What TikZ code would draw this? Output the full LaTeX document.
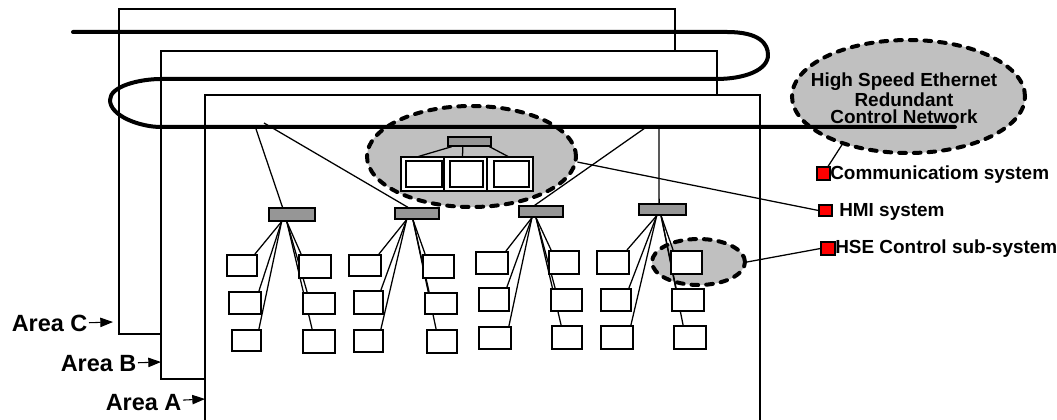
\documentclass[tikz,border=0pt]{standalone}
\usepackage{fontspec}
\setmainfont{Liberation Sans}
\usetikzlibrary{shapes.geometric,fit,arrows.meta,calc}
\definecolor{ellgray}{RGB}{192,192,192}
\definecolor{bargray}{RGB}{150,150,150}
\pgfdeclarelayer{back}\pgfdeclarelayer{mid}\pgfdeclarelayer{front}
\pgfsetlayers{back,mid,main,front}
\tikzset{
  areabox/.style={draw, fill=white, line width=0.85pt, inner sep=0pt},
  leafbox/.style={draw, fill=white, line width=1.35pt, inner sep=0pt},
  barbox/.style={draw, fill=bargray, line width=1pt, inner sep=0pt},
  cellbox/.style={draw, fill=white, line width=0.8pt, inner sep=0pt},
  innerbox/.style={draw, fill=white, line width=1.5pt, inner sep=0pt},
  dashell/.style={ellipse, draw, fill=ellgray, line width=3pt, dash pattern=on 5pt off 6pt, line cap=round, inner sep=0pt},
  redsq/.style={draw, fill=red, line width=0.8pt, inner sep=0pt},
  wire/.style={line width=0.95pt},
  net/.style={line width=3pt, line cap=round, line join=round},
  arealbl/.style={font=\fontsize{17.6pt}{20pt}\selectfont\bfseries, inner sep=1pt, anchor=base east},
  sidelbl/.style={font=\fontsize{14.2pt}{17pt}\selectfont\bfseries, inner sep=0pt, anchor=base west},
  areaarrow/.style={line width=0.8pt, -{Triangle[length=9.5pt,width=7pt]}},
}
\newcommand\leafnode[5]{\node[leafbox, fit={(#2,#3) (#4,#5)}] (#1) {};}
\begin{document}
\begin{tikzpicture}[x=0.75pt, y=-0.75pt]
\useasboundingbox (0,0) rectangle (1057,420);
% area frames
\begin{pgfonlayer}{back}
\node[areabox, fit={(119,9) (675,334)}] (areaC) {};
\node[areabox, fit={(161,51) (717,379)}] (areaB) {};
\node[areabox, fit={(205,95) (760,430)}] (areaA) {};
\end{pgfonlayer}
% HMI group
\node[dashell, minimum width=156.75pt, minimum height=75.75pt] (hmiell) at (471.5,156.5) {};
\node[barbox, fit={(448,137) (491,146)}] (hmibar) {};
\node[cellbox, fit={(401,157) (444,191)}] (cell1) {};
\node[cellbox, fit={(444,157) (487,191)}] (cell2) {};
\node[cellbox, fit={(487,157) (533,191)}] (cell3) {};
\node[innerbox, fit={(406,161) (442,187)}] (ws1) {};
\node[innerbox, fit={(450,161) (483,187)}] (ws2) {};
\node[innerbox, fit={(494,161) (529,187)}] (ws3) {};
\draw[wire] ($(hmibar.south west)!0.1!(hmibar.south east)$) -- ($(cell1.north)+(-4,0)$);
\draw[wire] ($(hmibar.south west)!0.35!(hmibar.south east)$) -- ($(cell2.north)+(-3,0)$);
\draw[wire] ($(hmibar.south west)!0.95!(hmibar.south east)$) -- ($(cell3.north)+(-2,0)$);
% switches
\node[barbox, fit={(269,208) (315,221)}] (b1) {};
\node[barbox, fit={(395,208) (439,219)}] (b2) {};
\node[barbox, fit={(519,206) (563,217)}] (b3) {};
\node[barbox, fit={(639,204) (686,215)}] (b4) {};
% leaves
\leafnode{c1r1}{227}{255}{257}{276}
\leafnode{c1r2}{229}{292}{261}{314}
\leafnode{c1r3}{232}{330}{261}{351}
\leafnode{c2r1}{299}{255}{331}{278}
\leafnode{c2r2}{303}{293}{335}{314}
\leafnode{c2r3}{303}{330}{335}{353}
\leafnode{c3r1}{349}{255}{381}{276}
\leafnode{c3r2}{354}{291}{383}{314}
\leafnode{c3r3}{354}{330}{383}{352}
\leafnode{c4r1}{423}{255}{454}{278}
\leafnode{c4r2}{425}{293}{457}{314}
\leafnode{c4r3}{427}{330}{457}{353}
\leafnode{c5r1}{476}{252}{508}{274}
\leafnode{c5r2}{479}{288}{509}{311}
\leafnode{c5r3}{479}{327}{511}{349}
\leafnode{c6r1}{549}{251}{579}{274}
\leafnode{c6r2}{551}{289}{582}{311}
\leafnode{c6r3}{552}{326}{582}{349}
\leafnode{c7r1}{597}{251}{629}{274}
\leafnode{c7r2}{601}{289}{631}{311}
\leafnode{c7r3}{601}{326}{633}{349}
\leafnode{c8r1}{671}{251}{702}{274}
\leafnode{c8r2}{672}{289}{704}{311}
\leafnode{c8r3}{674}{326}{706}{349}
% wires under boxes
\begin{pgfonlayer}{mid}
\node[dashell, minimum width=69.75pt, minimum height=34.5pt] (hseell) at (698.5,262) {};
\coordinate (n1) at (256,129);
\coordinate (n2) at (264,123);
\coordinate (n3) at (645,128);
\coordinate (n4) at (659,128);
\coordinate (n5) at (465,128);
\draw[wire] (n1) -- ($(b1.north west)!0.3!(b1.north east)$);
\draw[wire] (n2) -- ($(b2.north west)!0.3!(b2.north east)$);
\draw[wire] (n3) -- ($(b3.north west)!0.36!(b3.north east)$);
\draw[wire] (n4) -- ($(b4.north west)!0.43!(b4.north east)$);
\draw[wire] (n5) -- ($(hmibar.north west)!0.4!(hmibar.north east)$);
\foreach \bb/\cl/\cr/\fl/\fr in {1/1/2/0.28/0.39, 2/3/4/0.27/0.41, 3/5/6/0.30/0.39, 4/7/8/0.38/0.47}{
  \foreach \rw/\dd in {1/3,2/5,3/10}{
    \draw[wire] ($(b\bb.south west)!\fl!(b\bb.south east)$) -- ($(c\cl r\rw.north east)+(-3,0)$);
    \draw[wire] ($(b\bb.south west)!\fr!(b\bb.south east)$) -- ($(c\cr r\rw.north west)+(\dd,0)$);
  }
}
\end{pgfonlayer}
% front: network, legend
\begin{pgfonlayer}{front}
\node[dashell, minimum width=174.75pt, minimum height=84.75pt] (hsenet) at (908.5,96.5) {};
\node[font=\fontsize{14.2pt}{13.1pt}\selectfont\bfseries, align=center, inner sep=0pt] (hsetext) at (904,98.5) {High Speed Ethernet\\Redundant\\Control Network};
\draw[net] (73,32) -- (727,32) .. controls (760,32) and (768,44) .. (768,55)
  .. controls (768,70) and (745,79) .. (716,79) -- (161,79)
  .. controls (140,79) and (110,86) .. (110,100)
  .. controls (110,116) and (140,127) .. (161,127) -- (955,127);
\node[redsq, fit={(817,167) (830,180)}] (commsq) {};
\node[redsq, fit={(819,205) (832,216)}] (hmisq) {};
\node[redsq, fit={(821,242) (835,255)}] (hsesq) {};
\node[sidelbl] (commlbl) at (830,180) {Communicatiom system};
\node[sidelbl] (hmilbl) at (839,217) {HMI system};
\node[sidelbl] (hselbl) at (835,254) {HSE Control sub-system};
\draw[wire] (hsenet.216) -- (commsq);
\draw[wire] (hmiell.-3) -- (hmisq.west);
\draw[wire] (hseell.east) -- (hsesq.west);
% area labels
\node[arealbl] (lC) at (89,332) {Area C};
\node[arealbl] (lB) at (138,372) {Area B};
\node[arealbl] (lA) at (183,410) {Area A};
\coordinate (tC) at (113,322);
\coordinate (tB) at (161,362);
\coordinate (tA) at (205,399);
\draw[areaarrow] (lC) -- (tC);
\draw[areaarrow] (lB) -- (tB);
\draw[areaarrow] (lA) -- (tA);
\end{pgfonlayer}
\end{tikzpicture}
\end{document}
